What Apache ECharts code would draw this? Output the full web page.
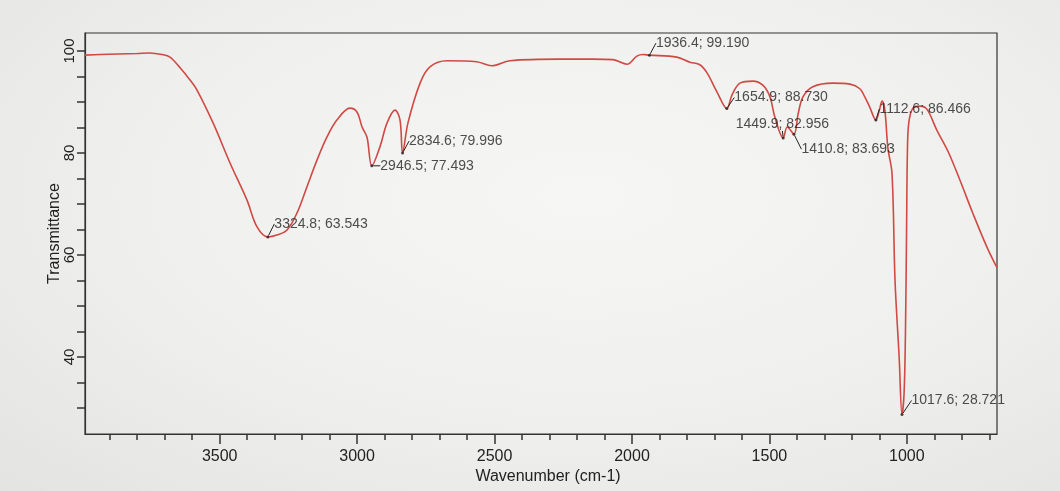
<!DOCTYPE html>
<html>
<head>
<meta charset="utf-8">
<script src="https://cdn.jsdelivr.net/npm/echarts@6/dist/echarts.min.js"></script>
<style>
  html, body {
    margin: 0;
    padding: 0;
    width: 1060px;
    height: 491px;
    background: radial-gradient(ellipse at 55% 40%, #f6f6f4 0%, #efefed 55%, #e3e3e1 100%);
  }
  #chart { width: 1060px; height: 491px; }
</style>
</head>
<body>
<div id="chart"></div>
<script>
// spectrum (wavenumber, % transmittance)
const wavenumbers = [
  3990, 3935, 3870, 3800, 3754, 3710, 3681, 3644, 3608, 3583, 3524, 3462, 3401, 3364,
  3324.8, 3292, 3255, 3219, 3183, 3146, 3110, 3073, 3026, 3000, 2982, 2964, 2946.5,
  2917, 2891, 2862, 2844, 2834.6, 2815, 2771, 2735, 2673, 2565, 2510, 2444, 2262, 2142,
  2069, 2018, 1982, 1960, 1936.4, 1837, 1789, 1753, 1727, 1691, 1654.9, 1636, 1607,
  1560, 1524, 1498, 1480, 1449.9, 1435, 1410.8, 1395, 1378, 1342, 1269, 1207, 1171,
  1153, 1135, 1112.6, 1100, 1090, 1080, 1069, 1054, 1043, 1028, 1017.6, 1010, 1005,
  1001, 998, 993, 978, 952, 927, 891, 850, 807, 760, 709, 672
];
const transmittance = [
  99.2, 99.3, 99.4, 99.5, 99.6, 99.3, 98.8, 96.7, 94.3, 92.4, 85.9, 78.0, 70.8, 65.5,
  63.543, 63.9, 64.9, 68.2, 73.3, 78.6, 83.1, 86.5, 88.8, 88.0, 85.1, 83.1, 77.493,
  81.2, 85.9, 88.4, 86.5, 79.996, 85.9, 93.7, 96.9, 98.1, 97.9, 97.1, 98.1, 98.4, 98.4,
  98.3, 97.4, 99.0, 99.3, 99.19, 98.8, 97.8, 97.3, 95.7, 92.0, 88.73, 91.4, 93.7,
  94.1, 93.3, 91.0, 87.0, 82.956, 85.1, 83.693, 87.8, 91.0, 93.0, 93.7, 93.5, 92.6,
  91.0, 89.0, 86.466, 88.4, 90.2, 88.4, 81.0, 76.0, 55.0, 40.0, 28.721, 33.0, 45.0,
  65.0, 80.0, 85.9, 88.8, 89.2, 88.6, 84.5, 80.3, 74.7, 68.2, 61.6, 57.5
];

// labelled peaks
const peakWavenumbers = [3324.8, 2946.5, 2834.6, 1936.4, 1654.9, 1449.9, 1410.8, 1112.6, 1017.6];
const peakValues = [63.543, 77.493, 79.996, 99.190, 88.730, 82.956, 83.693, 86.466, 28.721];

// tick marks
const xLabelTicks = [1000, 1500, 2000, 2500, 3000, 3500];
const xMinorTicks = [700, 800, 900, 1000, 1100, 1200, 1300, 1400, 1500, 1600, 1700, 1800,
  1900, 2000, 2100, 2200, 2300, 2400, 2500, 2600, 2700, 2800, 2900, 3000, 3100, 3200,
  3300, 3400, 3500, 3600, 3700, 3800, 3900];
const yLabelTicks = [40, 60, 80, 100];
const yTicks = [30, 35, 40, 45, 50, 55, 60, 65, 70, 75, 80, 85, 90, 95, 100];

// label nudges (dx, dy) for each peak text, style only
const peakLabelShift = [[0, -13], [2, 0], [0, -12], [0, -12], [1, -11], [-54, -14], [1, 15], [-3, -11], [3, -14]];

const FONT = '"Liberation Sans", Arial, sans-serif';
const INK = '#222';

const chart = echarts.init(document.getElementById('chart'), null, {renderer: 'canvas'});

const spectrum = wavenumbers.map((w, i) => [w, transmittance[i]]);
const peaks = peakWavenumbers.map((w, i) => [w, peakValues[i]]);

const option = {
  backgroundColor: 'transparent',
  animation: false,
  grid: {
    left: 85, right: 63, top: 33, bottom: 57,
    show: true, borderColor: '#333', borderWidth: 1.2,
    backgroundColor: 'transparent'
  },
  xAxis: [{
    type: 'value',
    inverse: true,
    min: 672, max: 3990,
    name: 'Wavenumber (cm-1)',
    nameLocation: 'middle',
    nameGap: 35,
    nameMoveOverlap: false,
    nameTextStyle: {fontFamily: FONT, fontSize: 16, color: INK, padding: [0, 0, 0, 14]},
    axisLine: {lineStyle: {color: '#333', width: 1.2}},
    axisTick: {show: true, length: 10, customValues: xLabelTicks, lineStyle: {color: '#333', width: 1.5}},
    axisLabel: {
      customValues: xLabelTicks, fontFamily: FONT, fontSize: 16, color: INK, margin: 15,
      formatter: v => String(v)
    },
    splitLine: {show: false}
  }, {
    type: 'value',
    inverse: true,
    min: 672, max: 3990,
    position: 'bottom',
    axisLine: {show: false},
    axisTick: {show: true, length: 6, customValues: xMinorTicks, lineStyle: {color: '#333', width: 1.5}},
    axisLabel: {show: false},
    splitLine: {show: false}
  }],
  yAxis: {
    type: 'value',
    min: 24.9, max: 103.53,
    name: 'Transmittance',
    nameLocation: 'middle',
    nameGap: 22,
    nameMoveOverlap: false,
    nameTextStyle: {fontFamily: FONT, fontSize: 16, color: INK},
    axisLine: {show: true, lineStyle: {color: '#333', width: 1.2}},
    axisTick: {show: true, length: 8, customValues: yTicks, lineStyle: {color: '#333', width: 1.5}},
    axisLabel: {
      customValues: yLabelTicks, rotate: 90, fontFamily: FONT, fontSize: 15, color: INK, margin: 8,
      formatter: v => String(v)
    },
    splitLine: {show: false}
  },
  series: [{
    name: 'spectrum',
    type: 'line',
    data: spectrum,
    showSymbol: false,
    smooth: 0.35,
    lineStyle: {color: '#cf4a44', width: 1.6},
    z: 2
  }, {
    name: 'peaks',
    type: 'scatter',
    data: peaks,
    symbol: 'circle',
    symbolSize: 3,
    itemStyle: {color: INK},
    label: {
      show: true,
      position: 'right',
      distance: 5,
      fontFamily: FONT,
      fontSize: 14,
      color: INK,
      formatter: p => p.value[0].toFixed(1) + '; ' + p.value[1].toFixed(3)
    },
    labelLine: {show: true, lineStyle: {color: INK, width: 1}},
    labelLayout: p => ({dx: peakLabelShift[p.dataIndex][0], dy: peakLabelShift[p.dataIndex][1]}),
    z: 3
  }]
};

chart.setOption(option);
</script>
</body>
</html>
